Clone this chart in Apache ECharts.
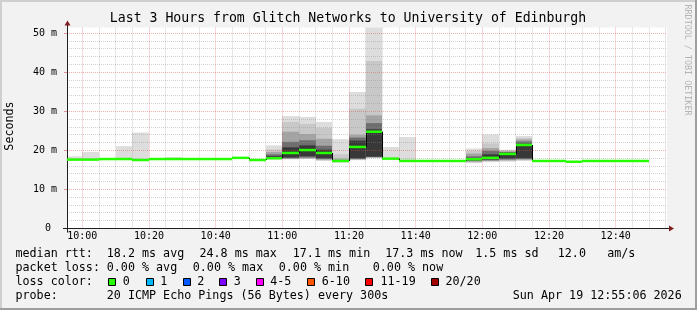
<!DOCTYPE html>
<html><head><meta charset="utf-8">
<script src="https://cdn.jsdelivr.net/npm/echarts@6/dist/echarts.min.js"></script>
<style>html,body{margin:0;padding:0;background:#f2f2f2}#c{width:697px;height:310px}</style>
</head><body><div id="c"></div>
<script>
// ---- data ----
const binTimes = ['09:55','10:00','10:05','10:10','10:15','10:20','10:25','10:30','10:35','10:40',
  '10:45','10:50','10:55','11:00','11:05','11:10','11:15','11:20','11:25','11:30',
  '11:35','11:40','11:45','11:50','11:55','12:00','12:05','12:10','12:15','12:20',
  '12:25','12:30','12:35','12:40','12:45'];
const medianRtt = [17.65,17.65,17.8,17.8,17.55,17.8,17.8,17.8,17.8,17.8,
  18.1,17.55,18.0,19.35,20.1,19.35,17.3,20.9,24.8,17.9,
  17.3,17.3,17.3,17.3,17.75,18.1,19.1,21.4,17.3,17.3,
  17.1,17.3,17.3,17.3,17.3];
// smoke bands [low, high] per bin, outermost (1) to innermost (5)
const smoke1 = [[17.5,18.5],[17.5,19.6],null,[17.7,21.1],[17.4,24.6],null,[17.7,18.3],null,null,null,
  null,null,[17.7,21.3],[17.7,28.8],[17.8,28.6],[17.3,27.3],[16.9,22.9],[17.5,35.0],[18.0,51.5],[17.7,20.9],
  [17.2,23.45],null,null,null,[16.8,20.5],[17.0,24.1],[17.1,20.2],[17.3,23.7],null,null,
  null,null,null,null,null];
const smoke2 = [null,null,null,null,null,null,null,null,null,null,
  null,null,[17.8,20.2],[17.8,27.3],[17.9,26.8],[17.5,25.8],[17.0,19.0],[17.6,30.7],[18.1,42.9],null,
  null,null,null,null,[16.9,19.9],[17.2,21.8],[17.3,20.0],[17.5,23.2],null,null,
  null,null,null,null,null];
const smoke3 = [null,null,null,null,null,null,null,null,null,null,
  null,null,[17.8,19.6],[17.9,24.8],[18.0,24.2],[17.6,23.0],[17.1,17.9],[17.7,24.0],[18.2,29.0],null,
  null,null,null,null,[17.1,19.2],[17.3,20.6],[17.5,19.8],[17.6,22.8],null,null,
  null,null,null,null,null];
const smoke4 = [null,null,null,null,null,null,null,null,null,null,
  null,null,[17.9,19.0],[18.0,22.2],[18.2,22.6],[17.8,21.2],null,[17.8,23.3],[18.3,27.0],null,
  null,null,null,null,[17.3,18.5],[17.5,19.9],[17.7,19.6],[17.8,22.3],null,null,
  null,null,null,null,null];
const smoke5 = [null,null,null,null,null,null,null,null,null,null,
  null,null,[17.95,18.5],[18.2,20.8],[18.5,21.3],[18.0,20.2],null,[18.0,22.5],[18.4,25.4],null,
  null,null,null,null,[17.5,18.0],[17.7,19.0],[17.9,19.4],[18.0,21.7],null,null,
  null,null,null,null,null];
const xTickLabels = ['10:00','10:20','10:40','11:00','11:20','11:40','12:00','12:20','12:40'];
const yTickValues = [0,10,20,30,40,50];
const lossLabels = ['0','1','2','3','4-5','6-10','11-19','20/20'];
const rttLegend = ['median rtt:','18.2 ms avg','24.8 ms max','17.1 ms min','17.3 ms now','1.5 ms sd','12.0','am/s'];
const lossLegend = ['packet loss:','0.00 % avg','0.00 % max','0.00 % min','0.00 % now'];
const probeLegend = ['probe:','20 ICMP Echo Pings (56 Bytes) every 300s','Sun Apr 19 12:55:06 2026'];
const titleText = 'Last 3 Hours from Glitch Networks to University of Edinburgh';

// ---- styles ----
const smokeLayers = [smoke1, smoke2, smoke3, smoke4, smoke5];
const smokeColors = ['#dddddd','#c8c8c8','#a4a4a4','#6e6e6e','#383838'];
const lossColors = ['#26ff00','#00b8ff','#0059ff','#7e00ff','#ff00ff','#ff5500','#ff0000','#a10000'];
const MONO = '"DejaVu Sans Mono"';
const toMin = t => { const [h,m] = t.split(':').map(Number); return h*60 + m - 600; };
const fmtMin = v => { const t = v + 600; const h = Math.floor(t/60), m = t%60; return String(h).padStart(2,'0') + ':' + String(m).padStart(2,'0'); };

const xMajor = xTickLabels.map(toMin);
const xMinor = []; for (let m = 0; m <= 175; m += 5) xMinor.push(m);
const yMinor = []; for (let v = 2; v <= 50; v += 2) yMinor.push(v);

const chart = echarts.init(document.getElementById('c'), null, {renderer:'canvas'});

function renderSmoke(params, api) {
  const k = params.dataIndex, cs = params.coordSys;
  const t0 = toMin(binTimes[k]), t1 = t0 + 5;
  const children = [];
  smokeLayers.forEach((layer, i) => {
    const b = layer[k]; if (!b) return;
    const p0 = api.coord([t0, b[1]]), p1 = api.coord([t1, b[0]]);
    const x0 = Math.round(Math.max(p0[0], cs.x)), x1 = Math.round(Math.min(p1[0], cs.x + cs.width));
    const y0 = Math.max(p0[1], cs.y);
    children.push({type:'rect', shape:{x:x0, y:y0, width:x1-x0, height:p1[1]-y0}, style:{fill:smokeColors[i]}});
  });
  return {type:'group', children};
}

function renderMedian(params, api) {
  const k = params.dataIndex, cs = params.coordSys;
  const t0 = toMin(binTimes[k]), t1 = t0 + 5;
  const p0 = api.coord([t0, medianRtt[k]]), p1 = api.coord([t1, medianRtt[k]]);
  const x0 = Math.round(Math.max(p0[0], cs.x)), x1 = Math.round(Math.min(p1[0], cs.x + cs.width));
  const children = [];
  if (k > 0) {
    const pp = api.coord([t0, medianRtt[k-1]]);
    children.push({type:'line', shape:{x1:x0+0.5, y1:pp[1], x2:x0+0.5, y2:p0[1]}, style:{stroke:'#000', lineWidth:1}});
  }
  children.push({type:'line', shape:{x1:x0, y1:p0[1], x2:x1, y2:p0[1]}, style:{stroke:lossColors[0], lineWidth:2.5}});
  return {type:'group', children};
}

function renderFrame(params, api) {
  if (params.dataIndex !== 0) return null;
  const cs = params.coordSys;
  const L = cs.x, R = cs.x + cs.width, T = cs.y, B = cs.y + cs.height;
  const snap = v => Math.floor(v) + 0.5;
  const minorStyle = {stroke:'rgba(143,143,143,0.4)', lineWidth:1, lineDash:[1,1]};
  const majorStyle = {stroke:'rgba(222,79,79,0.45)', lineWidth:1, lineDash:[1,1]};
  const ch = [];
  xMinor.forEach(m => { if (xMajor.includes(m)) return; const x = snap(api.coord([m,0])[0]); if (x <= L || x > R) return;
    ch.push({type:'line', shape:{x1:x,y1:T,x2:x,y2:B}, style:minorStyle}); });
  yMinor.forEach(v => { if (v % 10 === 0) return; const y = snap(api.coord([0,v])[1]);
    ch.push({type:'line', shape:{x1:L,y1:y,x2:R,y2:y}, style:minorStyle}); });
  xMajor.forEach(m => { const x = snap(api.coord([m,0])[0]);
    ch.push({type:'line', shape:{x1:x,y1:T,x2:x,y2:B}, style:majorStyle}); });
  yTickValues.forEach(v => { if (v === 0) return; const y = snap(api.coord([0,v])[1]);
    ch.push({type:'line', shape:{x1:L,y1:y,x2:R,y2:y}, style:majorStyle});
    ch.push({type:'line', shape:{x1:L-3,y1:y,x2:L,y2:y}, style:{stroke:'rgba(222,79,79,0.6)', lineWidth:1}}); });
  const xa = snap(B), ya = snap(L);
  ch.push({type:'line', shape:{x1:L-4, y1:xa, x2:R+4, y2:xa}, style:{stroke:'#1f1f1f', lineWidth:1}});
  ch.push({type:'line', shape:{x1:ya, y1:B+4, x2:ya, y2:T-4}, style:{stroke:'#1f1f1f', lineWidth:1}});
  ch.push({type:'polygon', shape:{points:[[R+2,xa-3],[R+2,xa+3],[R+7,xa]]}, style:{fill:'#801f1f'}});
  ch.push({type:'polygon', shape:{points:[[ya-3,T-2],[ya+3,T-2],[ya,T-7]]}, style:{fill:'#801f1f'}});
  return {type:'group', children:ch};
}

const binData = binTimes.map((t, i) => [toMin(t), medianRtt[i]]);

// legend graphics
const graphic = [];
const txt = (text, x, y, extra) => graphic.push(Object.assign({type:'text', x, y, silent:true,
  style:{text, font:'11.7px ' + MONO, fill:'#000', verticalAlign:'middle'}}, extra || {}));
// frame shading
graphic.push({type:'rect', shape:{x:0,y:0,width:697,height:2}, style:{fill:'#cfcfcf'}, silent:true});
graphic.push({type:'rect', shape:{x:0,y:0,width:2,height:310}, style:{fill:'#cfcfcf'}, silent:true});
graphic.push({type:'rect', shape:{x:0,y:308,width:697,height:2}, style:{fill:'#9e9e9e'}, silent:true});
graphic.push({type:'rect', shape:{x:695,y:0,width:2,height:310}, style:{fill:'#9e9e9e'}, silent:true});
graphic.push({type:'text', x:348, y:19, silent:true, style:{text:titleText, font:'13.2px ' + MONO, fill:'#000', align:'center', verticalAlign:'middle'}});
graphic.push({type:'text', x:10, y:126, rotation:Math.PI/2, silent:true, style:{text:'Seconds', font:'11.7px ' + MONO, fill:'#000', align:'center', verticalAlign:'middle'}});
graphic.push({type:'text', x:687.5, y:60, rotation:-Math.PI/2, silent:true, style:{text:'RRDTOOL / TOBI OETIKER', font:'8.4px ' + MONO, fill:'#b4b4b4', align:'center', verticalAlign:'middle'}});
const rttX = [15.5,106.8,199.5,292.8,385.2,475.2,557.8,607.2];
rttLegend.forEach((s, i) => txt(s, rttX[i], 254.3));
const lossX = [15.5,106.8,192.8,278.8,372.8];
lossLegend.forEach((s, i) => txt(s, lossX[i], 268.3));
txt('loss color:', 15.5, 282.3);
const boxX = [108.3,145.7,182.7,219.3,255.7,307.3,365,430.7];
const boxLabelX = [122.8,160.2,197.2,233.8,270.2,321.8,380.5,445.5];
lossLabels.forEach((s, i) => {
  graphic.push({type:'rect', silent:true, shape:{x:Math.round(boxX[i])+0.5, y:278.5, width:7, height:7}, style:{fill:lossColors[i], stroke:'#000', lineWidth:1}});
  txt(s, boxLabelX[i], 282.3);
});
const probeX = [15.5,106.8,512.8];
probeLegend.forEach((s, i) => txt(s, probeX[i], 296));

chart.setOption({
  animation:false,
  backgroundColor:'#f2f2f2',
  grid:{left:67, right:30, top:27.5, bottom:81.5, show:true, backgroundColor:'#ffffff', borderWidth:0},
  xAxis:{type:'value', min:-4.6, max:175.4,
    axisLine:{show:false}, axisTick:{show:false}, splitLine:{show:false},
    axisLabel:{customValues:xMajor, formatter:v => fmtMin(v), margin:3, fontFamily:MONO, fontSize:10, color:'#000'}},
  yAxis:{type:'value', min:0, max:51.5, interval:10,
    axisLine:{show:false}, axisTick:{show:false}, splitLine:{show:false},
    axisLabel:{formatter:v => (v === 0 ? '0 ' : (v % 10 === 0 ? v + ' m' : '')), margin:10, fontFamily:MONO, fontSize:10, color:'#000'}},
  series:[
    {type:'custom', z:2, silent:true, renderItem:renderSmoke, data:binData, encode:{x:0, y:1}},
    {type:'custom', z:3, silent:true, renderItem:renderFrame, data:[[0,0]], encode:{x:0, y:1}},
    {type:'custom', z:4, silent:true, renderItem:renderMedian, data:binData, encode:{x:0, y:1}}
  ],
  graphic
});
</script></body></html>
